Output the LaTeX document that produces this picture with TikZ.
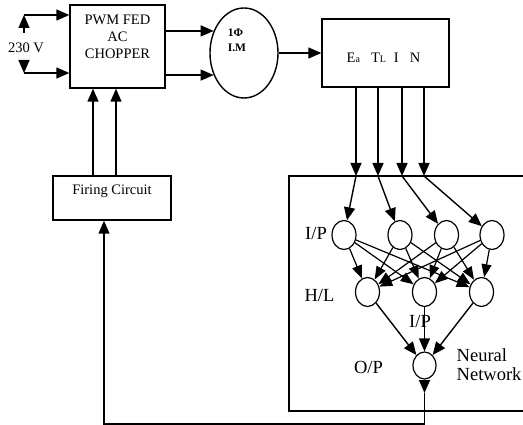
\documentclass[tikz,border=0pt]{standalone}
\usepackage{fontspec}
\setmainfont{Liberation Serif}
\usepackage{tikz}
\usetikzlibrary{arrows.meta,positioning,shapes.geometric}

\begin{document}
\begin{tikzpicture}[x=1pt,y=-1pt,line width=1.4pt,
    blk/.style={draw,rectangle,inner sep=0pt},
    neuron/.style={draw,ellipse,minimum width=24pt,minimum height=29pt,inner sep=0pt,line width=1.2pt},
    lbl/.style={font=\fontsize{14.5}{17}\selectfont,inner sep=0pt},
    nnlbl/.style={font=\fontsize{18.5}{19}\selectfont,inner sep=0pt},
    arr/.style={-{Triangle[length=13pt,width=11pt]}},
    sarr/.style={-{Triangle[length=13pt,width=10pt]},line width=1.2pt}]
  \useasboundingbox (0,0) rectangle (523,425);

  \node[blk,minimum width=95pt,minimum height=83pt] (chopper) at (117.5,46.5) {};
  \node[lbl,align=center,below=10pt of chopper.north] (choptxt) {PWM FED\\AC\\CHOPPER};
  \node[lbl,minimum height=28pt] (v230) at (26,47.5) {230 V};
  \coordinate (vtop) at (24,15);
  \coordinate (vbot) at (24,73);
  \draw[arr] (v230.north -| vtop) -- (vtop);
  \draw[arr] (vtop) -- (vtop -| chopper.west);
  \draw[arr] (v230.south -| vbot) -- (vbot);
  \draw[arr] (vbot) -- (vbot -| chopper.west);

  \node[draw,ellipse,minimum width=68pt,minimum height=90pt,inner sep=0pt] (motor) at (244,53) {};
  \node[font=\bfseries\fontsize{11.5}{15}\selectfont,align=left,inner sep=0pt] (mtxt) at (237,40.5) {1Φ\\I.M};
  \draw[arr] (chopper.east |- motor.144) -- (motor.144);
  \draw[arr] (chopper.east |- motor.216) -- (motor.216);

  \node[blk,minimum width=127pt,minimum height=68pt] (sensor) at (385.5,53) {};
  \node[lbl] (stxt) at (383.5,57.5) {E{\fontsize{10}{10}\selectfont a}\hspace{11pt}T{\fontsize{10}{10}\selectfont L}\hspace{8pt}I\hspace{11pt}N};
  \draw[arr] (motor) -- (sensor);

  \node[blk,minimum width=236pt,minimum height=235pt] (nnbox) at (407,293.5) {};
  \foreach \n/\x in {1/356,2/378,3/402,4/424}
    \coordinate (t\n) at (\x,176);
  \foreach \n in {1,...,4}
    \draw[arr] (sensor.south -| t\n) -- (t\n);

  \foreach \n/\x in {1/344,2/400,3/446.5,4/492}
    \node[neuron] (i\n) at (\x,235) {};
  \foreach \n in {1,...,4}
    \draw[arr] (t\n) -- (i\n);
  \foreach \n/\x in {1/367.5,2/424.5,3/481.5}
    \node[neuron] (h\n) at (\x,292) {};
  \foreach \a in {1,...,4}
    \foreach \b in {1,2,3}
      \draw[sarr] (i\a) -- (h\b);
  \node[neuron,minimum width=23pt,minimum height=27pt] (o) at (424.5,365.5) {};
  \foreach \b in {1,2,3}
    \draw[arr] (h\b) -- (o);

  \node[nnlbl] (iplbl) at (316,233) {I/P};
  \node[nnlbl] (hllbl) at (319.5,295) {H/L};
  \node[nnlbl] (ip2lbl) at (420,321) {I/P};
  \node[nnlbl] (oplbl) at (368.5,367.5) {O/P};
  \node[nnlbl,align=left,anchor=west] (nntxt) at (456,365) {Neural\\Network};

  \node[blk,minimum width=118pt,minimum height=44pt] (firing) at (112,198) {};
  \node[lbl] (ftxt) at (112,191) {Firing Circuit};
  \draw[arr] ([xshift=-19pt]firing.north) -- ([xshift=-19pt]firing.north |- chopper.south);
  \draw[arr] ([xshift=4pt]firing.north) -- ([xshift=4pt]firing.north |- chopper.south);

  \coordinate (obot) at (424.5,393);
  \coordinate (fbc) at (424.5,424);
  \draw[arr] (o) -- (obot);
  \draw[arr] (obot) -- (fbc) -| ([xshift=-8pt]firing.south);
\end{tikzpicture}
\end{document}
